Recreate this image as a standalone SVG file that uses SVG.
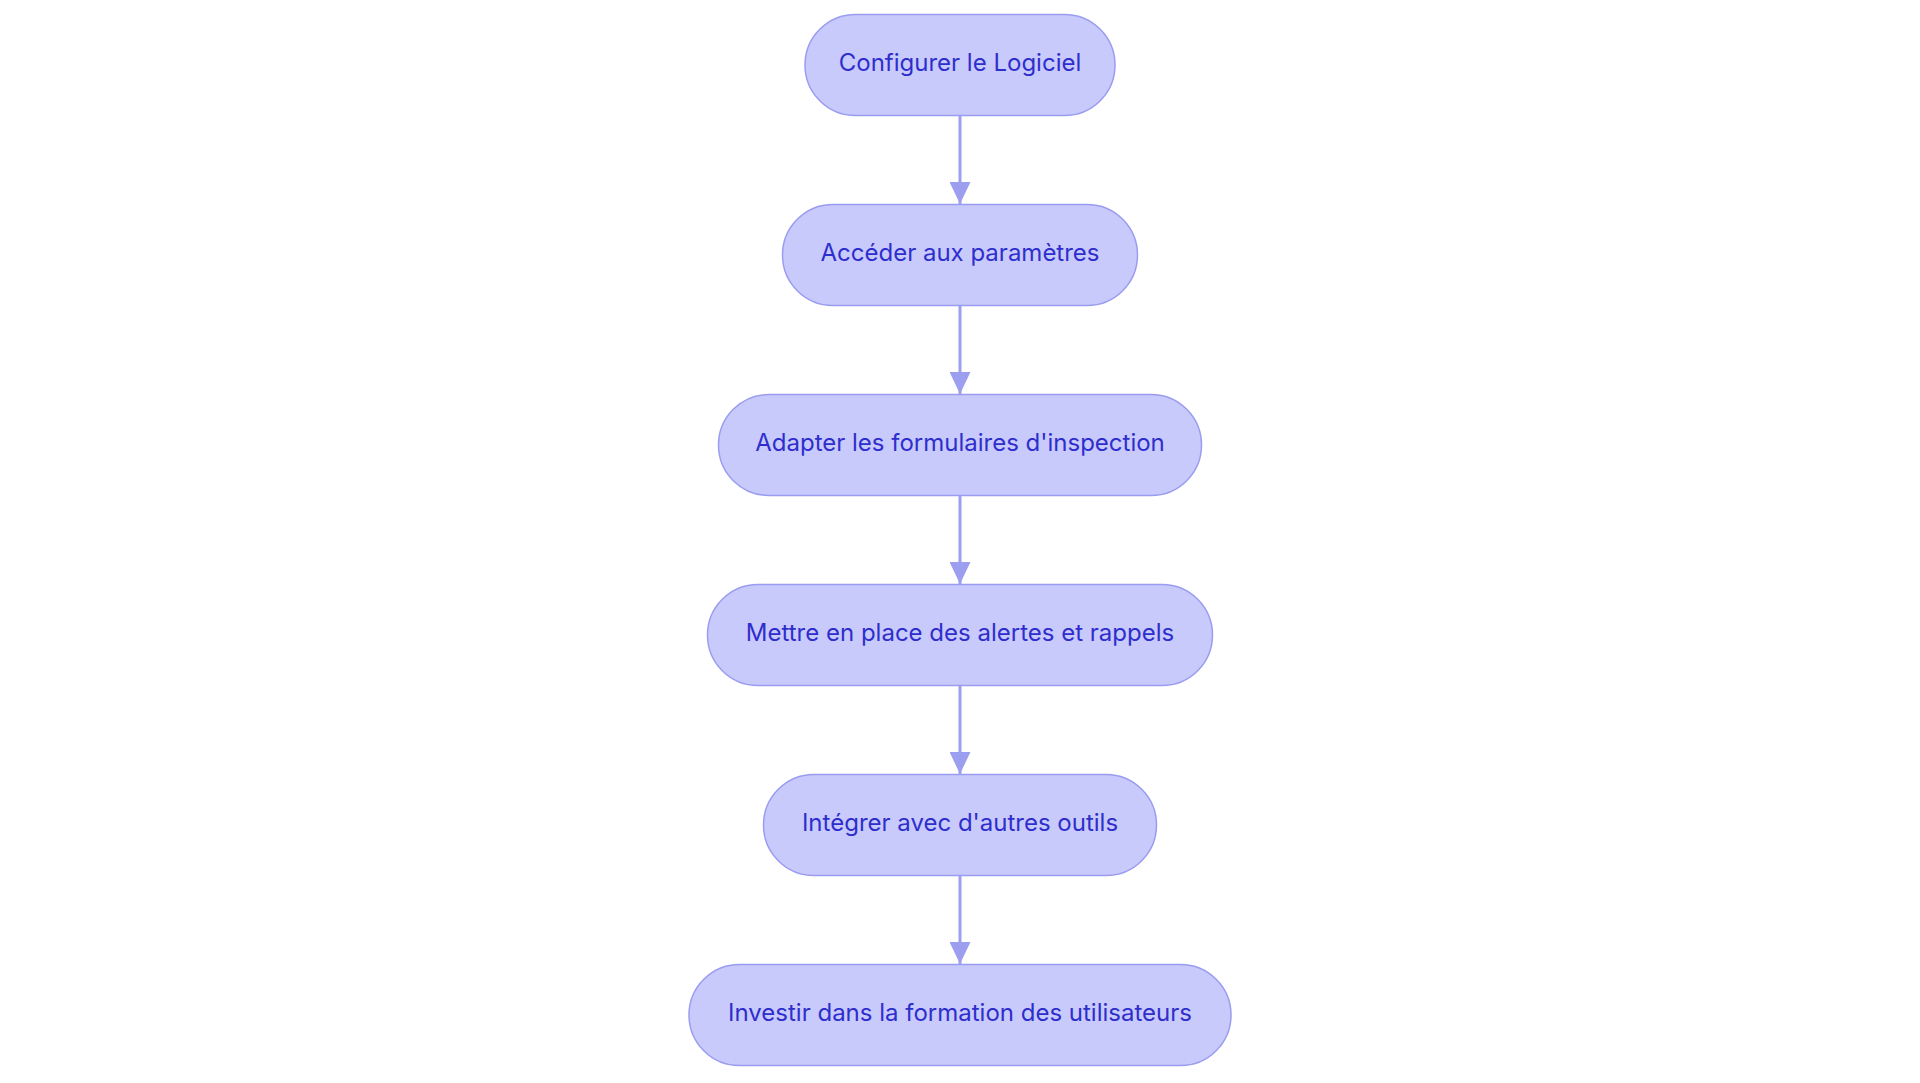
<svg xmlns="http://www.w3.org/2000/svg" width="1920" height="1083" viewBox="0 0 1920 1083">
<style>
.node rect{fill:#c9cafc;stroke:#9a9cf0;stroke-width:1.5}
.node text{font-family:Inter,"Noto Sans",sans-serif;font-size:24px;fill:#2e2ecc;text-anchor:middle;dominant-baseline:central}
.edge{stroke:#9c9ff0;stroke-width:3;fill:none}
</style>
<defs>
<marker id="arr" viewBox="0 0 22 21" refX="22" refY="10.5" markerWidth="22" markerHeight="21" markerUnits="userSpaceOnUse" orient="auto">
<path d="M0,0 L22,10.5 L0,21 Z" fill="#9c9ff0"/>
</marker>
</defs>
<rect width="1920" height="1083" fill="#ffffff"/>
<g id="connectors">
<line class="edge" x1="960" y1="115" x2="960" y2="204" marker-end="url(#arr)"/>
<line class="edge" x1="960" y1="305" x2="960" y2="394" marker-end="url(#arr)"/>
<line class="edge" x1="960" y1="495" x2="960" y2="584" marker-end="url(#arr)"/>
<line class="edge" x1="960" y1="685" x2="960" y2="774" marker-end="url(#arr)"/>
<line class="edge" x1="960" y1="875" x2="960" y2="964" marker-end="url(#arr)"/>
</g>
<g id="n1" class="node"><rect x="805" y="14.5" width="310" height="101" rx="50.5"/><text x="960" y="62.5">Configurer le Logiciel</text></g>
<g id="n2" class="node"><rect x="782.5" y="204.5" width="355" height="101" rx="50.5"/><text x="960" y="252.5">Accéder aux paramètres</text></g>
<g id="n3" class="node"><rect x="718.5" y="394.5" width="483" height="101" rx="50.5"/><text x="960" y="442.5">Adapter les formulaires d'inspection</text></g>
<g id="n4" class="node"><rect x="707.5" y="584.5" width="505" height="101" rx="50.5"/><text x="960" y="632.5">Mettre en place des alertes et rappels</text></g>
<g id="n5" class="node"><rect x="763.5" y="774.5" width="393" height="101" rx="50.5"/><text x="960" y="822.5">Intégrer avec d'autres outils</text></g>
<g id="n6" class="node"><rect x="689" y="964.5" width="542" height="101" rx="50.5"/><text x="960" y="1012.5">Investir dans la formation des utilisateurs</text></g>
</svg>
